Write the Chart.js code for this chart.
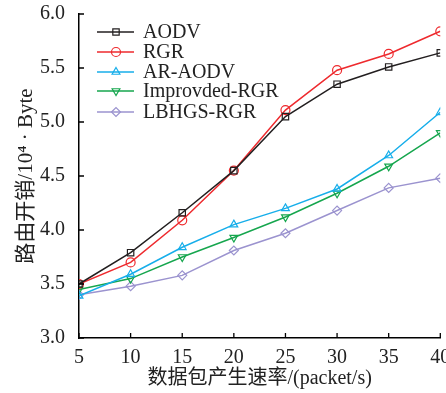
<!DOCTYPE html>
<html lang="zh">
<head>
    <meta charset="UTF-8">
    <script src="https://cdn.jsdelivr.net/npm/chart.js"></script>
    <title>路由开销</title>
    <style>
        html, body { margin: 0; padding: 0; background: #fff; }
        #grafico { display: block; }
    </style>
</head>
<body>
    <canvas id="grafico" width="446" height="393"></canvas>

<script>
    // dados
    const taxas = [5, 10, 15, 20, 25, 30, 35, 40];
    const aodv = [3.50, 3.79, 4.16, 4.55, 5.05, 5.35, 5.51, 5.64];
    const rgr = [3.50, 3.70, 4.09, 4.55, 5.11, 5.48, 5.63, 5.84];
    const arAodv = [3.39, 3.59, 3.84, 4.05, 4.20, 4.38, 4.69, 5.09];
    const improvedRgr = [3.45, 3.55, 3.75, 3.93, 4.12, 4.34, 4.59, 4.90];
    const lbhgsRgr = [3.40, 3.48, 3.58, 3.81, 3.97, 4.18, 4.39, 4.48];
    const nomes = ['AODV', 'RGR', 'AR-AODV', 'Improvded-RGR', 'LBHGS-RGR'];
    const yTicks = [3.0, 3.5, 4.0, 4.5, 5.0, 5.5, 6.0];

    const fonte = "'Liberation Serif', 'Noto Sans CJK SC', serif";

    function pontos(valores) {
        return valores.map((v, i) => ({ x: taxas[i], y: v }));
    }

    function serie(nome, valores, cor, estilo, rot) {
        return {
            label: nome,
            data: pontos(valores),
            borderColor: cor,
            backgroundColor: 'transparent',
            borderWidth: 1.5,
            pointStyle: estilo,
            rotation: rot || 0,
            pointRadius: 4.5,
            pointBorderWidth: 1.2,
            pointBackgroundColor: 'transparent',
            pointBorderColor: cor,
            tension: 0
        };
    }

    // ticks para dentro
    const ticksDentro = {
        id: 'ticksDentro',
        afterDraw(chart) {
            const ctx = chart.ctx;
            const x = chart.scales.x;
            const y = chart.scales.y;
            ctx.save();
            ctx.strokeStyle = '#000';
            ctx.lineWidth = 1.3;
            ctx.beginPath();
            taxas.forEach(t => {
                const px = x.getPixelForValue(t);
                ctx.moveTo(px, x.top);
                ctx.lineTo(px, x.top - 5);
            });
            yTicks.forEach(t => {
                const py = y.getPixelForValue(t);
                ctx.moveTo(y.right, py);
                ctx.lineTo(y.right + 5, py);
            });
            ctx.stroke();
            ctx.restore();
        }
    };

    // legenda com linha + marcador
    const legendaLinha = {
        id: 'legendaLinha',
        afterDatasetsDraw(chart) {
            const ctx = chart.ctx;
            const posY = [32, 52, 72, 91, 112];
            ctx.save();
            chart.data.datasets.forEach((ds, i) => {
                const y = posY[i];
                ctx.strokeStyle = ds.borderColor;
                ctx.fillStyle = 'rgba(0,0,0,0)';
                ctx.lineWidth = 1.5;
                ctx.beginPath();
                ctx.moveTo(97, y);
                ctx.lineTo(134, y);
                ctx.stroke();
                ctx.lineWidth = 1.2;
                Chart.helpers.drawPoint(ctx, {
                    pointStyle: ds.pointStyle,
                    radius: 4.5,
                    rotation: ds.rotation,
                    borderWidth: 1.2
                }, 116, y);
                ctx.fillStyle = '#222';
                ctx.font = '20px ' + fonte;
                ctx.textBaseline = 'middle';
                ctx.fillText(ds.label, 143, y + 1);
            });
            ctx.restore();
        }
    };

    const ctx = document.getElementById('grafico').getContext('2d');

    new Chart(ctx, {
        type: 'line',
        data: {
            datasets: [
                serie(nomes[0], aodv, '#231f20', 'rect'),
                serie(nomes[1], rgr, '#ee2a2e', 'circle'),
                serie(nomes[2], arAodv, '#17aeea', 'triangle'),
                serie(nomes[3], improvedRgr, '#16a64e', 'triangle', 180),
                serie(nomes[4], lbhgsRgr, '#9b93cf', 'rectRot')
            ]
        },
        options: {
            responsive: false,
            animation: false,
            layout: { padding: { top: 14, right: 5, left: 0, bottom: 0 } },
            plugins: {
                legend: { display: false },
                tooltip: { enabled: false }
            },
            scales: {
                x: {
                    type: 'linear',
                    min: 5,
                    max: 40,
                    afterBuildTicks(scale) {
                        scale.ticks = taxas.map(v => ({ value: v }));
                    },
                    afterFit(scale) {
                        scale.height = 55;
                        scale.paddingLeft = 0;
                        scale.paddingRight = 0;
                    },
                    grid: { display: false },
                    border: { display: true, color: '#000', width: 1.5 },
                    ticks: {
                        color: '#222',
                        font: { family: fonte, size: 20 },
                        padding: 0,
                        maxRotation: 0,
                        autoSkip: false
                    },
                    title: {
                        display: true,
                        text: '数据包产生速率/(packet/s)',
                        color: '#222',
                        font: { family: fonte, size: 20 },
                        padding: { top: 0, bottom: 2 }
                    }
                },
                y: {
                    min: 3,
                    max: 6,
                    afterBuildTicks(scale) {
                        scale.ticks = yTicks.map(v => ({ value: v }));
                    },
                    afterFit(scale) {
                        scale.width = 79;
                        scale.paddingTop = 0;
                        scale.paddingBottom = 0;
                    },
                    grid: { display: false },
                    border: { display: true, color: '#000', width: 1.5 },
                    ticks: {
                        color: '#222',
                        font: { family: fonte, size: 20 },
                        padding: 6,
                        callback: v => v.toFixed(1)
                    },
                    title: {
                        display: true,
                        text: '路由开销/10⁴ · Byte',
                        color: '#222',
                        font: { family: fonte, size: 21 },
                        padding: { top: 14, bottom: 0 }
                    }
                }
            }
        },
        plugins: [ticksDentro, legendaLinha]
    });
</script>
</body>
</html>
